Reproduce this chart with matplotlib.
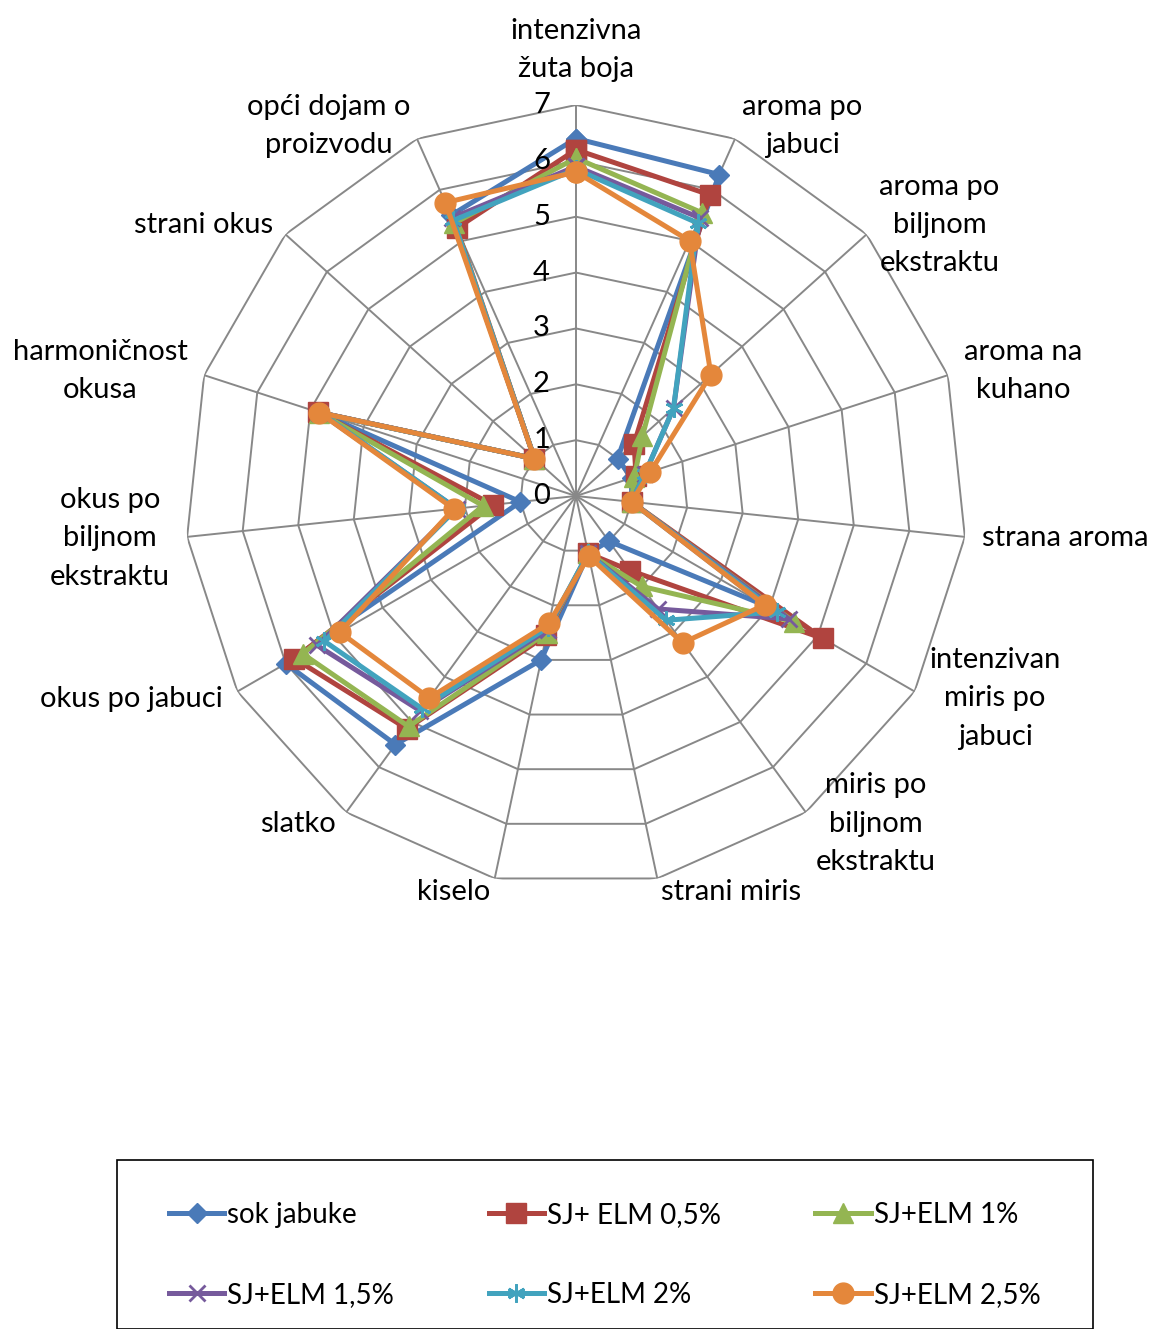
import numpy as np
import matplotlib
matplotlib.use('Agg')
import matplotlib.pyplot as plt
from matplotlib.patches import Rectangle

""" Data """
categories = ['intenzivna\nžuta boja', 'aroma po\njabuci', 'aroma po\nbiljnom\nekstraktu',
              'aroma na\nkuhano', 'strana aroma', 'intenzivan\nmiris po\njabuci',
              'miris po\nbiljnom\nekstraktu', 'strani miris', 'kiselo', 'slatko',
              'okus po jabuci', 'okus po\nbiljnom\nekstraktu', 'harmoničnost\nokusa',
              'strani okus', 'opći dojam o\nproizvodu']
series_names = ['sok jabuke', 'SJ+ ELM 0,5%', 'SJ+ELM 1%', 'SJ+ELM 1,5%', 'SJ+ELM 2%', 'SJ+ELM 2,5%']

sok_jabuke = [6.4, 6.3, 1.0, 1.05, 1.0, 3.95, 1.0, 1.05, 3.0, 5.5, 6.0, 1.0, 4.85, 1.0, 5.5]
sj_05 = [6.2, 5.9, 1.4, 1.13, 1.0, 5.1, 1.65, 1.05, 2.55, 5.15, 5.82, 1.5, 4.85, 1.0, 5.25]
sj_1 = [6.05, 5.55, 1.6, 1.1, 1.0, 4.5, 2.0, 1.05, 2.5, 5.1, 5.65, 1.67, 4.83, 1.0, 5.35]
sj_15 = [5.9, 5.45, 2.35, 1.3, 1.0, 4.4, 2.5, 1.05, 2.45, 4.75, 5.35, 2.15, 4.83, 1.0, 5.45]
sj_2 = [5.85, 5.35, 2.35, 1.3, 1.0, 4.15, 2.75, 1.05, 2.4, 4.7, 5.2, 2.15, 4.8, 1.0, 5.4]
sj_25 = [5.8, 5.0, 3.25, 1.4, 1.0, 3.9, 3.25, 1.1, 2.33, 4.47, 4.88, 2.2, 4.83, 1.0, 5.75]
all_series = [sok_jabuke, sj_05, sj_1, sj_15, sj_2, sj_25]

r_ticks = [0, 1, 2, 3, 4, 5, 6, 7]

""" Style """
colors = ['#4A7AB8', '#B0443F', '#94B552', '#765A9C', '#42A3BE', '#E4873B']
markers = ['D', 's', '^', 'x', (6, 2, 0), 'o']
msizes = [10, 14, 14, 12, 13, 15]
grid_col = '#888888'
plt.rcParams['font.family'] = ['Lato', 'DejaVu Sans']
fs = 21

fig = plt.figure(figsize=(11.58, 13.29), dpi=100)
W, H = 1158, 1329
cx, cy, R = 576, 496, 391
ax = fig.add_axes([(cx - R) / W, (H - cy - R) / H, 2 * R / W, 2 * R / H], projection='polar')
ax.set_theta_zero_location('N')
ax.set_theta_direction(-1)
ax.set_ylim(0, 7)
ax.grid(False)
ax.spines['polar'].set_visible(False)
ax.set_xticks([])
ax.set_yticks([])
ax.patch.set_alpha(0)

n = len(categories)
theta = np.arange(n) * 2 * np.pi / n
theta_c = np.append(theta, theta[0])

# polygon grid + spokes
for k in r_ticks[1:]:
    ax.plot(theta_c, [k] * (n + 1), color=grid_col, lw=1.4, zorder=1)
for t in theta:
    ax.plot([t, t], [0, 7], color=grid_col, lw=1.4, zorder=1)

# tick labels on vertical axis
for k in r_ticks:
    ax.annotate(str(k), xy=(0, k), xytext=(-26, 0), textcoords='offset pixels',
                ha='right', va='center', fontsize=fs, zorder=5)

# category labels
for t, lab in zip(theta, categories):
    s, c = np.sin(t), np.cos(t)
    if abs(s) < 0.05:
        ha, va, off = 'center', 'bottom', (0, 23)
    else:
        ha = 'left' if s > 0 else 'right'
        va = 'center'
        dx = max(4, 17 * abs(s)) * np.sign(s)
        off = (dx, 14 * c)
    ax.annotate(lab, xy=(t, 7), xytext=off, textcoords='offset pixels',
                ha=ha, va=va, fontsize=fs, multialignment='center', linespacing=1.58)

# series
lines = []
for vals, name, col, mk, ms in zip(all_series, series_names, colors, markers, msizes):
    v = np.append(vals, vals[0])
    mew = 2 if mk in ('x', (6, 2, 0)) else 1
    ln, = ax.plot(theta_c, v, color=col, lw=3.6, marker=mk, markersize=ms,
                  markerfacecolor=col, markeredgecolor=col, markeredgewidth=mew,
                  label=name, zorder=3, clip_on=False)
    lines.append(ln)

# legend box
fig.patches.append(Rectangle((117 / W, 0), (1093 - 117) / W, (H - 1173) / H + 0.01,
                             transform=fig.transFigure, fill=False, edgecolor='black', lw=1.2))
order = [0, 3, 1, 4, 2, 5]
fig.legend([lines[i] for i in order], [series_names[i] for i in order], ncol=3,
           loc='upper left', bbox_to_anchor=(155 / W, 1 - 1188 / H), frameon=False,
           fontsize=20, handlelength=2.0, handletextpad=0.1, labelspacing=1.95,
           columnspacing=3.4, borderpad=0)

fig.savefig('out.png', dpi=100)
